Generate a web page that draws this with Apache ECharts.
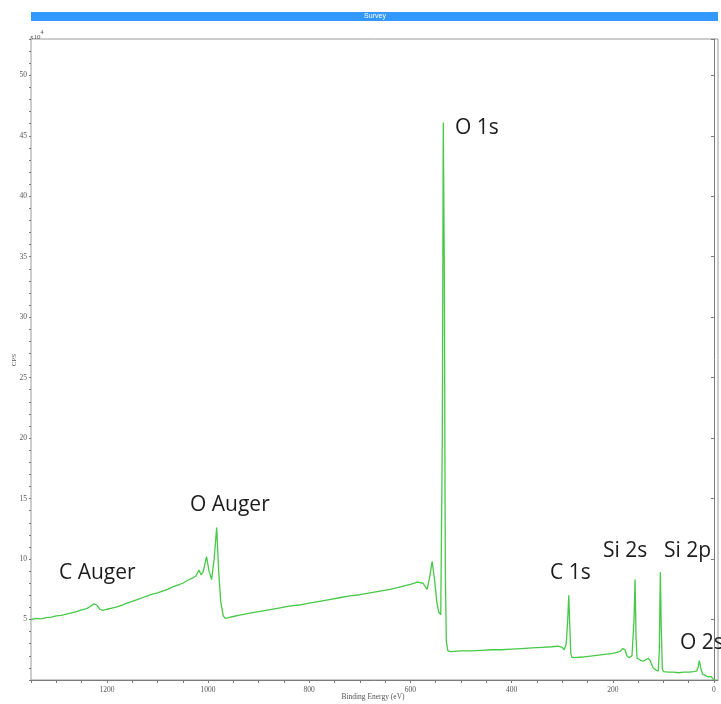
<!DOCTYPE html>
<html>
<head>
<meta charset="utf-8">
<script src="https://cdn.jsdelivr.net/npm/echarts@6.0.0/dist/echarts.min.js"></script>
<style>
  html, body { margin: 0; padding: 0; background: #fff; }
  #chart { width: 721px; height: 704px; }
</style>
</head>
<body>
<div id="chart"></div>
<script>
// XPS survey spectrum: binding energy (eV) and intensity (CPS, in units of 10^4)
const bindingEnergy = [
  1350, 1340, 1330, 1320, 1310, 1300, 1290, 1280, 1270, 1260, 1250, 1240,
  1232, 1226, 1220, 1214, 1208, 1200, 1190, 1180, 1170, 1160, 1150, 1140,
  1130, 1120, 1110, 1100, 1090, 1080, 1070, 1060, 1050, 1040, 1030, 1024,
  1018, 1014, 1010, 1003, 998, 993, 988, 983, 979, 975, 970, 966,
  960, 950, 940, 920, 900, 880, 860, 840, 820, 800, 780, 760,
  740, 720, 700, 680, 660, 640, 620, 600, 586, 575, 567, 562,
  557, 552, 548, 544, 540, 537, 535, 533, 531, 529, 526, 520,
  500, 480, 460, 440, 420, 400, 380, 360, 340, 320, 308, 300,
  296, 292, 289, 287, 285, 283, 281, 276, 260, 240, 220, 200,
  186, 180, 176, 172, 168, 162, 158, 156, 154, 152, 146, 140,
  134, 130, 126, 120, 114, 110, 108, 106, 104, 102, 100, 90,
  80, 70, 60, 50, 40, 34, 31, 29, 27, 25, 22, 18,
  14, 10, 6, 2, -3
];
const cps = [
  5.0, 5.1, 5.05, 5.15, 5.2, 5.3, 5.35, 5.45, 5.55, 5.65, 5.8, 5.9,
  6.1, 6.3, 6.2, 5.85, 5.75, 5.85, 5.95, 6.05, 6.2, 6.35, 6.5, 6.65,
  6.8, 6.95, 7.1, 7.2, 7.35, 7.5, 7.7, 7.85, 8.0, 8.25, 8.45, 8.6,
  9.1, 8.7, 8.9, 10.2, 9.0, 8.3, 10.0, 12.6, 9.0, 6.5, 5.3, 5.1,
  5.15, 5.25, 5.35, 5.5, 5.65, 5.8, 5.95, 6.1, 6.2, 6.35, 6.5, 6.65,
  6.8, 6.95, 7.05, 7.2, 7.35, 7.5, 7.7, 7.9, 8.1, 8.0, 7.5, 8.5,
  9.8, 8.2, 6.5, 5.6, 5.4, 20.0, 46.1, 34.0, 9.0, 3.2, 2.4, 2.35,
  2.4, 2.4, 2.45, 2.5, 2.5, 2.55, 2.6, 2.65, 2.7, 2.75, 2.8, 2.7,
  2.5, 3.0, 5.0, 7.0, 4.5, 2.2, 1.9, 1.85, 1.9, 2.0, 2.1, 2.2,
  2.35, 2.6, 2.5, 2.0, 1.85, 2.0, 5.0, 8.3, 3.5, 1.8, 1.65, 1.55,
  1.7, 1.8, 1.6, 1.0, 0.8, 0.75, 2.5, 8.9, 4.0, 0.9, 0.7, 0.65,
  0.65, 0.6, 0.65, 0.65, 0.7, 0.75, 1.1, 1.6, 1.5, 0.8, 0.45, 0.4,
  0.3, 0.25, 0.3, 0.1, 0.0
];

// Axis ticks and labels
const xTickValues = [0, 50, 100, 150, 200, 250, 300, 350, 400, 450, 500, 550, 600, 650,
  700, 750, 800, 850, 900, 950, 1000, 1050, 1100, 1150, 1200, 1250, 1300, 1350];
const xLabelValues = [0, 200, 400, 600, 800, 1000, 1200];
const yLabelValues = [5, 10, 15, 20, 25, 30, 35, 40, 45, 50];
const yMinorTickValues = [];
for (let v = 0; v <= 53; v++) yMinorTickValues.push(v);
const xAxisTitle = 'Binding Energy (eV)';
const yAxisTitle = 'CPS';

// Peak assignments
const peakNames = ['O 1s', 'O Auger', 'C Auger', 'C 1s', 'Si 2s', 'Si 2p', 'O 2s'];
const peakLabelPos = [[455, 128], [190, 505], [59, 573], [550, 573], [603, 551], [664, 551], [680, 643]];

const smallFont = 'Liberation Serif';
const axisGrey = '#7a7a7a';

const chart = echarts.init(document.getElementById('chart'), null, { renderer: 'canvas' });

const graphics = [
  { type: 'rect', shape: { x: 31, y: 12, width: 687, height: 9 }, style: { fill: '#3399ff' }, silent: true },
  { type: 'text', x: 375, y: 16.5, style: { text: 'Survey', fill: '#ffffff', font: '7px "Liberation Sans"', textAlign: 'center', textVerticalAlign: 'middle' } },
  { type: 'text', x: 30, y: 29, style: {
      text: '{a|x10}{b|4}',
      rich: {
        a: { fontSize: 7, fontFamily: smallFont, fill: '#555', verticalAlign: 'bottom', padding: [5, 0, 0, 0] },
        b: { fontSize: 6, fontFamily: smallFont, fill: '#555', verticalAlign: 'top' }
      }
  } },
  { type: 'text', x: 373, y: 697, style: { text: xAxisTitle, fill: '#555', font: '7.5px "Liberation Serif"', textAlign: 'center', textVerticalAlign: 'middle' } },
  { type: 'text', x: 14, y: 360, rotation: Math.PI / 2, style: { text: yAxisTitle, fill: '#555', font: '7px "Liberation Serif"', textAlign: 'center', textVerticalAlign: 'middle' } }
];
peakNames.forEach((name, i) => {
  graphics.push({
    type: 'text', x: peakLabelPos[i][0], y: peakLabelPos[i][1],
    style: { text: name, fill: '#1c1c1c', font: '21px "Open Sans"', textAlign: 'left', textVerticalAlign: 'middle' }
  });
});

chart.setOption({
  animation: false,
  backgroundColor: '#ffffff',
  grid: {
    left: 31, right: 3, top: 39, bottom: 24,
    containLabel: false, outerBoundsMode: 'none',
    show: true, borderColor: '#9a9a9a', borderWidth: 1
  },
  xAxis: {
    type: 'value', inverse: true, min: -8, max: 1350,
    axisLine: { show: true, lineStyle: { color: axisGrey } },
    axisTick: { show: true, customValues: xTickValues, length: 3, lineStyle: { color: axisGrey } },
    axisLabel: {
      customValues: xLabelValues, fontFamily: smallFont, fontSize: 7.5, color: '#555', margin: 6,
      formatter: v => String(v)
    },
    splitLine: { show: false }
  },
  yAxis: [
    {
      type: 'value', min: 0, max: 53, interval: 5,
      axisLine: { show: true, lineStyle: { color: axisGrey } },
      axisTick: { show: true, length: 3, lineStyle: { color: axisGrey } },
      axisLabel: { customValues: yLabelValues, fontFamily: smallFont, fontSize: 7.5, color: '#555', margin: 4 },
      splitLine: { show: false }
    },
    {
      type: 'value', min: 0, max: 53, position: 'left',
      axisLine: { show: false },
      axisTick: { show: true, customValues: yMinorTickValues, length: 2, lineStyle: { color: axisGrey } },
      axisLabel: { show: false },
      splitLine: { show: false }
    }
  ],
  series: [{
    type: 'line',
    data: bindingEnergy.map((e, i) => [e, cps[i]]),
    showSymbol: false,
    lineStyle: { color: '#46c946', width: 1.3 },
    clip: true
  }],
  graphic: graphics
});
</script>
</body>
</html>
